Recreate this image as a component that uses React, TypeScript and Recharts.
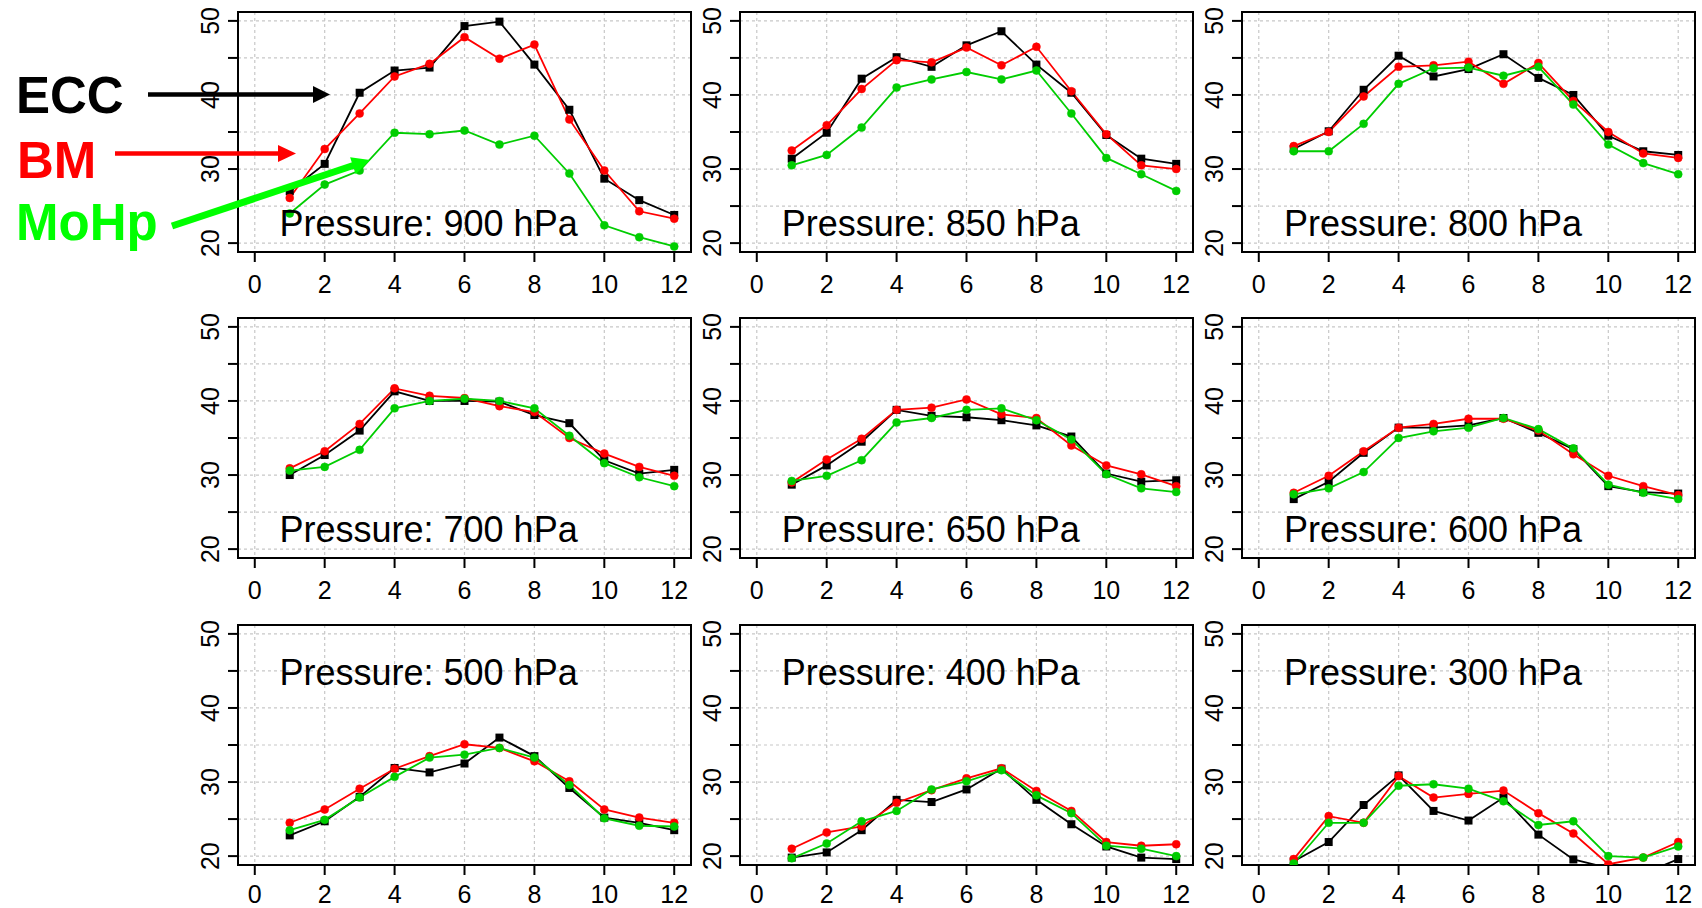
import React from 'react';
import { LineChart, Line, XAxis, YAxis, CartesianGrid, ReferenceArea } from 'recharts';

// month index on the x axis
const months = [1, 2, 3, 4, 5, 6, 7, 8, 9, 10, 11, 12];
const xTicks = [0, 2, 4, 6, 8, 10, 12];
const yTicks = [20, 25, 30, 35, 40, 45, 50];

// values read per pressure level: ECC (black), BM (red), MoHp (green)
const ecc900 = [27.0, 30.7, 40.3, 43.3, 43.7, 49.3, 49.9, 44.1, 38.0, 28.7, 25.8, 23.8];
const bm900 = [26.1, 32.7, 37.5, 42.5, 44.2, 47.8, 44.9, 46.8, 36.7, 29.8, 24.3, 23.3];
const mohp900 = [24.0, 27.9, 29.8, 34.9, 34.7, 35.2, 33.3, 34.5, 29.4, 22.4, 20.8, 19.55];

const ecc850 = [31.4, 34.9, 42.2, 45.1, 43.8, 46.7, 48.6, 44.1, 40.3, 34.6, 31.4, 30.7];
const bm850 = [32.5, 35.9, 40.8, 44.7, 44.4, 46.4, 44.0, 46.5, 40.5, 34.7, 30.5, 30.0];
const mohp850 = [30.5, 31.9, 35.6, 41.0, 42.1, 43.1, 42.1, 43.3, 37.5, 31.5, 29.3, 27.05];

const ecc800 = [32.7, 35.1, 40.7, 45.3, 42.5, 43.5, 45.5, 42.3, 40.0, 34.5, 32.4, 31.9];
const bm800 = [33.1, 35.0, 39.8, 43.8, 44.0, 44.5, 41.5, 44.3, 39.2, 35.0, 32.1, 31.5];
const mohp800 = [32.4, 32.4, 36.1, 41.5, 43.6, 43.7, 42.6, 43.8, 38.7, 33.3, 30.8, 29.3];

const ecc700 = [30.0, 32.7, 36.0, 41.3, 40.0, 40.0, 39.9, 38.1, 37.0, 32.0, 30.2, 30.7];
const bm700 = [30.9, 33.2, 36.9, 41.7, 40.7, 40.4, 39.3, 38.5, 35.0, 32.9, 31.1, 29.9];
const mohp700 = [30.6, 31.1, 33.4, 39.0, 40.0, 40.3, 40.0, 39.0, 35.3, 31.6, 29.7, 28.5];

const ecc650 = [28.7, 31.3, 34.5, 38.8, 38.0, 37.8, 37.4, 36.7, 35.2, 30.2, 29.1, 29.3];
const bm650 = [29.0, 32.1, 34.9, 38.8, 39.1, 40.2, 38.2, 37.7, 34.0, 31.3, 30.1, 28.5];
const mohp650 = [29.2, 29.9, 32.0, 37.1, 37.7, 38.8, 39.0, 37.4, 34.8, 30.1, 28.2, 27.7];

const ecc600 = [26.75, 29.1, 33.0, 36.4, 36.4, 36.7, 37.7, 35.7, 33.5, 28.5, 27.7, 27.5];
const bm600 = [27.6, 29.9, 33.2, 36.4, 36.9, 37.6, 37.6, 36.0, 32.8, 29.9, 28.5, 27.3];
const mohp600 = [27.4, 28.2, 30.4, 35.0, 35.9, 36.4, 37.7, 36.2, 33.6, 28.7, 27.6, 26.75];

const ecc500 = [22.8, 24.7, 28.0, 31.9, 31.3, 32.5, 36.0, 33.5, 29.2, 25.2, 24.5, 23.5];
const bm500 = [24.5, 26.3, 29.1, 31.8, 33.5, 35.1, 34.6, 32.8, 30.1, 26.3, 25.2, 24.5];
const mohp500 = [23.5, 24.9, 27.9, 30.7, 33.3, 33.7, 34.6, 33.3, 29.6, 25.1, 24.1, 24.0];

const ecc400 = [19.8, 20.5, 23.5, 27.6, 27.3, 29.0, 31.8, 27.6, 24.3, 21.3, 19.8, 19.6];
const bm400 = [21.0, 23.2, 24.0, 27.2, 28.9, 30.5, 31.85, 28.8, 26.1, 21.9, 21.4, 21.6];
const mohp400 = [19.7, 21.7, 24.7, 26.1, 29.0, 30.1, 31.6, 28.2, 25.8, 21.4, 21.0, 20.0];

const ecc300 = [19.3, 21.9, 26.9, 30.9, 26.1, 24.8, 27.9, 22.9, 19.55, 18.4, 17.6, 19.6];
const bm300 = [19.6, 25.4, 24.5, 30.8, 27.9, 28.4, 28.85, 25.8, 23.05, 18.9, 19.8, 21.9];
const mohp300 = [19.0, 24.5, 24.5, 29.5, 29.7, 29.1, 27.4, 24.2, 24.7, 20.0, 19.8, 21.3];

const panels = [
  { level: '900', ecc: ecc900, bm: bm900, mohp: mohp900 },
  { level: '850', ecc: ecc850, bm: bm850, mohp: mohp850 },
  { level: '800', ecc: ecc800, bm: bm800, mohp: mohp800 },
  { level: '700', ecc: ecc700, bm: bm700, mohp: mohp700 },
  { level: '650', ecc: ecc650, bm: bm650, mohp: mohp650 },
  { level: '600', ecc: ecc600, bm: bm600, mohp: mohp600 },
  { level: '500', ecc: ecc500, bm: bm500, mohp: mohp500 },
  { level: '400', ecc: ecc400, bm: bm400, mohp: mohp400 },
  { level: '300', ecc: ecc300, bm: bm300, mohp: mohp300 },
];

const FONT = '"Liberation Sans", Arial, Helvetica, sans-serif';
const X_DOMAIN = [-0.48, 12.48];
const Y_DOMAIN = [18.8, 51.2];
const BOX_W = 453;
const BOX_H = 240;
const PAD_L = 80;
const PAD_T = 10;
const PAD_R = 10;
const PAD_B = 55;
const GREEN = '#00CD00';

const boxLeft = (c: number) => 237.5 + 502.2 * c;
const boxTop = (r: number) => 11.7 + 306.6 * r;

// bottom row sits against the page edge, so its labels ride a bit higher
const makeXTick = (offset: number) => (props: any) => {
  const { x, y, payload } = props;
  return (
    <text x={x} y={y + offset} textAnchor="middle" fontSize={25} fontFamily={FONT} fill="#000">
      {payload.value}
    </text>
  );
};
const xTickTop = makeXTick(31);
const xTickBottom = makeXTick(27.5);

// R style: labels only on every other tick, rotated
const YTick = (props: any) => {
  const { x, y, payload } = props;
  if (payload.value % 10 !== 0) return <g />;
  const bx = x - 9.3;
  return (
    <text x={bx} y={y} transform={`rotate(-90 ${bx} ${y})`} textAnchor="middle" fontSize={25} fontFamily={FONT} fill="#000">
      {payload.value}
    </text>
  );
};

const squareDot = (p: any) => {
  if (p.cx == null || p.cy == null) return <g key={`sq-${p.index}`} />;
  return <rect key={`sq-${p.index}`} x={p.cx - 4} y={p.cy - 4} width={8} height={8} fill="#000" />;
};

function Panel({ idx }: { idx: number }) {
  const p = panels[idx];
  const r = Math.floor(idx / 3);
  const c = idx % 3;
  const data = months.map((m, i) => ({ month: m, ecc: p.ecc[i], bm: p.bm[i], mohp: p.mohp[i] }));
  const left = boxLeft(c);
  const top = boxTop(r);
  const labelY = r < 2 ? top + BOX_H - 16 : top + 60;
  return (
    <>
      <div style={{ position: 'absolute', left: left - PAD_L, top: top - PAD_T }}>
        <LineChart
          width={PAD_L + BOX_W + PAD_R}
          height={PAD_T + BOX_H + PAD_B}
          data={data}
          margin={{ top: PAD_T, right: PAD_R, bottom: 0, left: 0 }}
        >
          <CartesianGrid stroke="#c8c8c8" strokeDasharray="3 3" strokeWidth={1.2} />
          <XAxis
            dataKey="month"
            type="number"
            domain={X_DOMAIN}
            ticks={xTicks}
            interval={0}
            allowDataOverflow
            height={PAD_B}
            axisLine={false}
            tickLine={{ stroke: '#000', strokeWidth: 2 }}
            tickSize={10}
            tickMargin={0}
            tick={r < 2 ? xTickTop : xTickBottom}
          />
          <YAxis
            type="number"
            domain={Y_DOMAIN}
            ticks={yTicks}
            interval={0}
            allowDataOverflow
            width={PAD_L}
            axisLine={false}
            tickLine={{ stroke: '#000', strokeWidth: 2 }}
            tickSize={10}
            tickMargin={0}
            tick={YTick}
          />
          <Line type="linear" dataKey="ecc" stroke="#000" strokeWidth={1.8} dot={squareDot} isAnimationActive={false} />
          <Line type="linear" dataKey="bm" stroke="#FF0000" strokeWidth={1.8} dot={{ r: 4, fill: '#FF0000', stroke: '#FF0000', strokeWidth: 0.5 }} isAnimationActive={false} />
          <Line type="linear" dataKey="mohp" stroke={GREEN} strokeWidth={1.8} dot={{ r: 4, fill: GREEN, stroke: GREEN, strokeWidth: 0.5 }} isAnimationActive={false} />
          <ReferenceArea
            x1={X_DOMAIN[0]}
            x2={X_DOMAIN[1]}
            y1={Y_DOMAIN[0]}
            y2={Y_DOMAIN[1]}
            fill="none"
            fillOpacity={0}
            stroke="#000"
            strokeWidth={2}
            ifOverflow="visible"
          />
        </LineChart>
      </div>
      <svg style={{ position: 'absolute', left: 0, top: 0, pointerEvents: 'none' }} width={1702} height={908}>
        <text x={left + 42} y={labelY} fontSize={36} fontFamily={FONT} fill="#000">
          {`Pressure: ${p.level} hPa`}
        </text>
      </svg>
    </>
  );
}

export default function App() {
  return (
    <div style={{ position: 'absolute', left: 0, top: 0, width: 1702, height: 908, background: '#fff', overflow: 'hidden' }}>
      {panels.map((_, i) => (
        <Panel key={i} idx={i} />
      ))}
      {/* series key with arrows, top left */}
      <svg style={{ position: 'absolute', left: 0, top: 0 }} width={1702} height={908}>
        <g fontFamily={FONT} fontWeight="bold" fontSize={51}>
          <text x={16} y={113} fill="#000">ECC</text>
          <text x={17} y={178} fill="#FF0000">BM</text>
          <text x={16} y={240} fill="#00FF00">MoHp</text>
        </g>
        <line x1={148} y1={94.5} x2={314} y2={94.5} stroke="#000" strokeWidth={4.5} />
        <polygon points="313,86 330,94.5 313,103" fill="#000" />
        <line x1={115} y1={153.5} x2={279} y2={153.5} stroke="#FF0000" strokeWidth={4.5} />
        <polygon points="278,145 296,153.5 278,162" fill="#FF0000" />
        <line x1={172} y1={226} x2={354} y2={165.3} stroke="#00FF00" strokeWidth={7} />
        <polygon points="355.7,174.2 370,160 350.1,157.2" fill="#00FF00" />
      </svg>
    </div>
  );
}
